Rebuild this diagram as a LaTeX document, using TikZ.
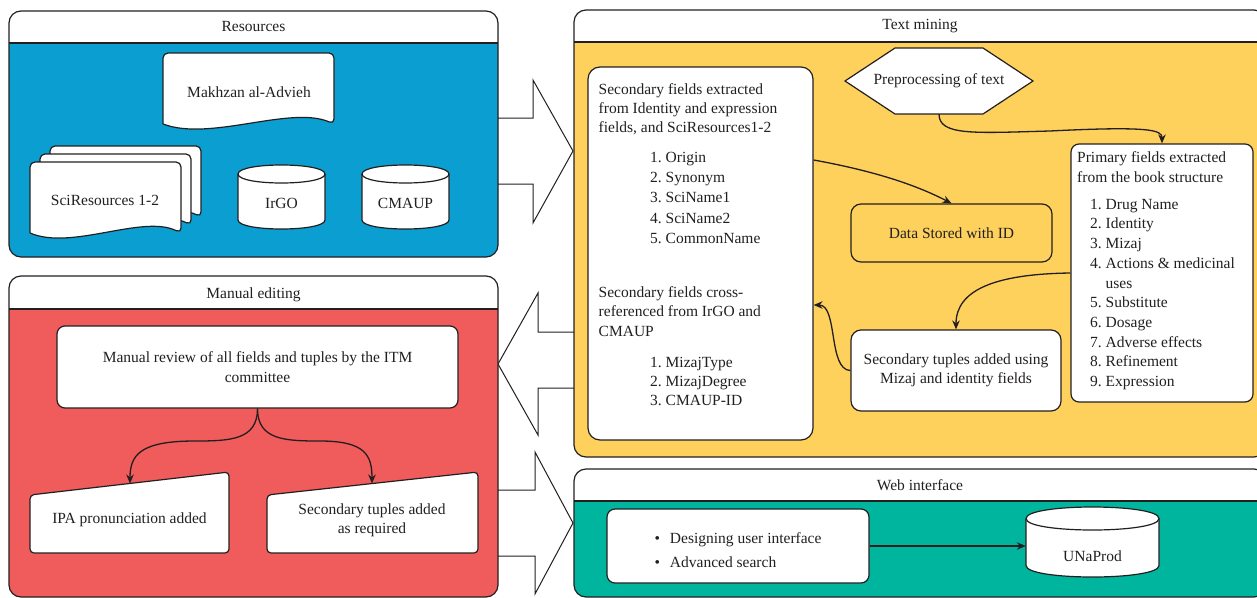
\documentclass[tikz,border=0pt]{standalone}
\usepackage{fontspec}
\setmainfont{Liberation Serif}
\usetikzlibrary{arrows.meta}
\definecolor{ink}{RGB}{35,31,32}
\definecolor{resblue}{RGB}{10,159,208}
\definecolor{manred}{RGB}{240,91,91}
\definecolor{minegold}{RGB}{254,208,92}
\definecolor{webteal}{RGB}{0,181,158}
\newcommand{\panelbox}[6]{%
  \fill[#6,rounded corners=12pt] (#1,#2) rectangle (#3,#4);
  \fill[white,rounded corners=12pt] (#1,#5) -- (#1,#2) -- (#3,#2) -- (#3,#5);
  \draw[panelline] (#1,#5) -- (#3,#5);
  \draw[panelline,rounded corners=12pt] (#1,#2) rectangle (#3,#4);}
\newcommand{\docshape}[4]{%
  \filldraw[outline,rounded corners=5pt] (#1,#4) -- (#1,#2) -- (#3,#2) -- (#3,#4)
    .. controls ({#1+0.745*(#3-#1)},{#4-19}) and ({#1+0.275*(#3-#1)},{#4+18}) .. (#1,#4);}
\newcommand{\drum}[5]{%
  \filldraw[outline] (#1,{#2+#5}) -- (#1,{#4-#5}) .. controls (#1,{#4+#5/3}) and (#3,{#4+#5/3}) .. (#3,{#4-#5})
    -- (#3,{#2+#5}) .. controls (#3,{#2-#5/3}) and (#1,{#2-#5/3}) .. (#1,{#2+#5});
  \draw[outline] (#1,{#2+#5}) .. controls (#1,{#2+7*#5/3}) and (#3,{#2+7*#5/3}) .. (#3,{#2+#5});}
\begin{document}
\begin{tikzpicture}[x=1pt,y=-1pt,>={Stealth[length=9pt,width=7.5pt]},
  font=\fontsize{15.5}{19.5}\selectfont,text=ink,
  panelline/.style={draw=ink,line width=1.2pt},
  outline/.style={draw=ink,fill=white,line width=1.2pt},
  boxnode/.style={draw=ink,fill=white,line width=1.2pt,rounded corners=10pt,inner sep=0pt},
  bigarrow/.style={draw=ink,fill=white,line width=1pt},
  flow/.style={->,draw=ink,line width=1.3pt},
  textblock/.style={anchor=north west,inner sep=0pt}]
\path[use as bounding box,fill=white] (0,0) rectangle (1257,597);

\filldraw[bigarrow] (497,118) -- (533,118) -- (533,80) -- (573,151) -- (533,223) -- (533,184) -- (497,184);
\filldraw[bigarrow] (574,332) -- (538,332) -- (538,293) -- (498,364) -- (538,435) -- (538,388) -- (574,388);
\filldraw[bigarrow] (497,490) -- (535,490) -- (535,452) -- (573,523) -- (535,594) -- (535,556) -- (497,556);

\panelbox{9}{11}{498}{257}{43}{resblue}
\panelbox{9}{276}{498}{597}{309}{manred}
\panelbox{574}{10}{1266}{457}{42}{minegold}
\panelbox{574}{469}{1266}{597}{501}{webteal}
\node (restitle) at (253.5,27) {Resources};
\node (mantitle) at (253.5,295) {Manual editing};
\node (minetitle) at (920,26) {Text mining};
\node (webtitle) at (920,485) {Web interface};

\docshape{163}{53}{334}{124}
\node (makhzan) at (249,92) {Makhzan al-Advieh};
\docshape{50}{146}{201}{217}
\docshape{40}{154}{191}{225}
\docshape{30}{162}{181}{233}
\node (scires) at (105,200) {SciResources 1-2};
\drum{238}{165}{325}{229}{9}
\node (irgo) at (281.5,203) {IrGO};
\drum{362}{165}{449}{229}{9}
\node (cmaup) at (405.5,203) {CMAUP};

\node[boxnode,rounded corners=8pt,minimum width=401pt,minimum height=82pt,align=center] (review) at (257.5,367)
  {Manual review of all fields and tuples by the ITM\\committee};
\filldraw[outline,rounded corners=4pt] (30,495) -- (229,472) -- (229,553) -- (30,553) -- cycle;
\node (ipa) at (129.5,520) {IPA pronunciation added};
\filldraw[outline,rounded corners=4pt] (267,495) -- (478,472) -- (478,553) -- (267,553) -- cycle;
\node[align=center] (extra) at (372,520.5) {Secondary tuples added\\as required};
\coordinate (ipatop) at (130,483.5);
\coordinate (extratop) at (372,483.5);
\draw[flow] (review.south) .. controls (257.5,440) and (230,441) .. (195,441) .. controls (140,441) and (130,455) .. (ipatop);
\draw[flow] (review.south) .. controls (257.5,440) and (285,441) .. (320,441) .. controls (365,441) and (372,455) .. (extratop);

\node[boxnode,rounded corners=12pt,minimum width=225pt,minimum height=373pt] (secbox) at (700.5,253.5) {};
\node[textblock] (fieldsA) at (598.5,80.5) {\def\arraystretch{0.975}\begin{tabular}{@{}l@{}}
  Secondary fields extracted\\from Identity and expression\\fields, and SciResources1-2\end{tabular}};
\node[textblock] (listA) at (650,148) {\def\arraystretch{1.04}\begin{tabular}{@{}r@{\ }l@{}}
  1. & Origin\\2. & Synonym\\3. & SciName1\\4. & SciName2\\5. & CommonName\end{tabular}};
\node[textblock] (fieldsB) at (598.5,283.5) {\begin{tabular}{@{}l@{}}
  Secondary fields cross-\\referenced from IrGO and\\CMAUP\end{tabular}};
\node[textblock] (listB) at (650,353.5) {\def\arraystretch{0.975}\begin{tabular}{@{}r@{\ }l@{}}
  1. & MizajType\\2. & MizajDegree\\3. & CMAUP-ID\end{tabular}};

\filldraw[outline] (845,81) -- (895,48) -- (983,48) -- (1033,81) -- (983,114) -- (895,114) -- cycle;
\node[minimum width=188pt,minimum height=66pt] (prep) at (939,81) {Preprocessing of text};
\node[boxnode,fill=minegold,minimum width=201pt,minimum height=58pt] (stored) at (951.5,233) {Data Stored with ID};
\node[boxnode,align=center,minimum width=210pt,minimum height=81pt] (tuples) at (956,370.5)
  {Secondary tuples added using\\Mizaj and identity fields};
\node[boxnode,rounded corners=8pt,minimum width=182pt,minimum height=258pt] (primary) at (1162,273) {};
\node[textblock] (fieldsP) at (1077,148.5) {\def\arraystretch{1.02}\begin{tabular}{@{}l@{}}
  Primary fields extracted\\from the book structure\end{tabular}};
\node[textblock] (listP) at (1090,195.3) {\def\arraystretch{1.01}\begin{tabular}{@{}r@{\ }l@{}}
  1. & Drug Name\\2. & Identity\\3. & Mizaj\\4. & Actions \& medicinal\\ & uses\\5. & Substitute\\
  6. & Dosage\\7. & Adverse effects\\8. & Refinement\\9. & Expression\end{tabular}};

\draw[flow] ([yshift=93.5pt]secbox.east) .. controls (880,172) and (920,187) .. (stored.north);
\draw[flow] (prep.south) .. controls (939,136) and (975,133) .. (1050,131) .. controls (1150,126) and (1162,130) .. (primary.north);
\draw[flow] (primary.west) .. controls (995,274) and (956,290) .. (tuples.north);
\draw[flow] (tuples.west) .. controls (828,370) and (838,305) .. ([yshift=-51.5pt]secbox.east);

\node[boxnode,rounded corners=8pt,minimum width=262pt,minimum height=74pt] (webbox) at (738,546)
  {\raisebox{-5pt}[\height][\depth]{\def\arraystretch{1.23}\begin{tabular}{@{}l@{\hspace{10pt}}l@{}}\textbullet & Designing user interface\\
  \textbullet & Advanced search\end{tabular}}};
\drum{1026}{507}{1159}{577}{11.5}
\node[minimum width=133pt] (unaprod) at (1092.5,556) {UNaProd};
\draw[flow] (webbox.east) -- (webbox.east -| unaprod.west);
\end{tikzpicture}
\end{document}
